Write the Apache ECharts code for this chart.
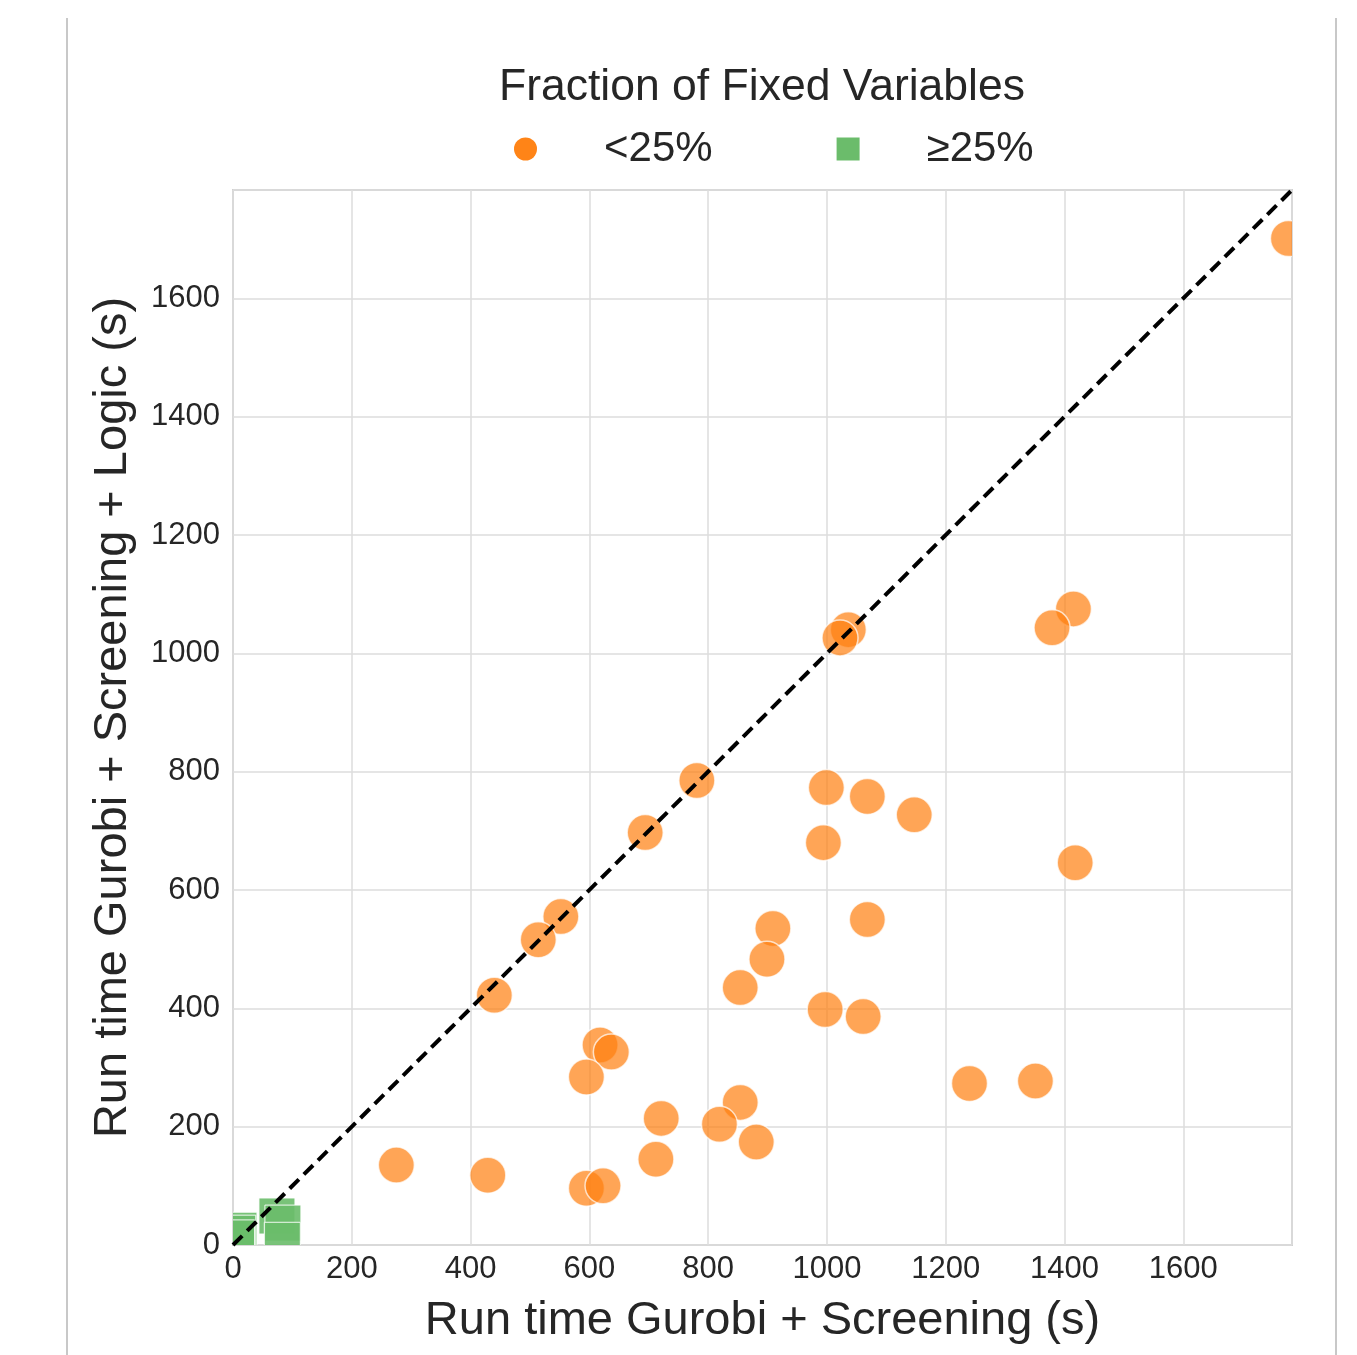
<!DOCTYPE html>
<html>
<head>
<meta charset="utf-8">
<script src="https://cdn.jsdelivr.net/npm/echarts@6/dist/echarts.min.js"></script>
<style>
  html, body { margin: 0; padding: 0; background: #fff; }
  #chart { width: 1357px; height: 1355px; }
</style>
</head>
<body>
<div id="chart"></div>
<script>
// data
var lowX = [1777, 1415, 1379, 1036, 1022, 781, 999, 1068, 1147, 994, 1418, 694,
  552, 514, 440, 909, 1068, 899, 854, 997, 1061, 618, 637, 595, 1240, 1351,
  854, 721, 819, 881, 712, 275, 429, 595, 623];
var lowY = [1701, 1075, 1043, 1040, 1026, 785, 773, 758, 727, 680, 646, 697,
  555, 516, 422, 535, 550, 483, 435, 398, 386, 338, 326, 284, 273, 277,
  241, 214, 204, 174, 145, 135, 118, 96, 100];
var highX = [10, 8, 6, 74, 84, 83];
var highY = [25, 20, 12, 49, 37, 8];
var legendNames = ['<25%', '\u226525%'];
var axisMax = 1783;

var font = "'Liberation Sans', Arial, Helvetica, sans-serif";
var textColor = '#262626';

function pairs(xs, ys) {
  var out = [];
  for (var i = 0; i < xs.length; i++) out.push([xs[i], ys[i]]);
  return out;
}

function circleItem(params, api) {
  var p = api.coord([api.value(0), api.value(1)]);
  return {
    type: 'circle',
    shape: { cx: p[0], cy: p[1], r: 18 },
    style: { fill: '#ff7f0e', stroke: '#ffffff', lineWidth: 1.5, opacity: 0.7 }
  };
}

function squareItem(params, api) {
  var p = api.coord([api.value(0), api.value(1)]);
  return {
    type: 'rect',
    shape: { x: p[0] - 18, y: p[1] - 18, width: 36, height: 36 },
    style: { fill: '#6abd6a', stroke: '#ffffff', lineWidth: 1, opacity: 0.9 }
  };
}

var chart = echarts.init(document.getElementById('chart'));

var axisCommon = {
  type: 'value',
  min: 0,
  max: axisMax,
  interval: 200,
  nameLocation: 'middle',
  nameTextStyle: { fontFamily: font, fontSize: 47, color: textColor },
  axisLine: { show: false },
  axisTick: { show: false },
  splitLine: { lineStyle: { color: '#dcdcdc', width: 1.5 } }
};

function plain(v) { return String(v); }

chart.setOption({
  backgroundColor: '#ffffff',
  animation: false,
  title: {
    text: 'Fraction of Fixed Variables',
    left: 757,
    top: 60,
    textAlign: 'center',
    textStyle: { fontFamily: font, fontSize: 44.5, fontWeight: 'normal', color: textColor }
  },
  legend: {
    left: 509,
    top: 123,
    itemWidth: 23,
    itemHeight: 23,
    itemGap: 124,
    textStyle: { fontFamily: font, fontSize: 42, color: textColor, padding: [0, 0, 0, 62] },
    data: [
      { name: legendNames[0], icon: 'circle', itemStyle: { color: '#ff8417' } },
      { name: legendNames[1], icon: 'rect', itemStyle: { color: '#6bbc6b' } }
    ]
  },
  grid: {
    left: 233,
    right: 65,
    top: 190,
    bottom: 110,
    show: true,
    borderColor: '#cfcfcf',
    borderWidth: 2
  },
  xAxis: Object.assign({}, axisCommon, {
    name: 'Run time Gurobi + Screening (s)',
    nameGap: 53,
    axisLabel: { fontFamily: font, fontSize: 31, color: textColor, margin: 9, showMaxLabel: false, formatter: plain }
  }),
  yAxis: Object.assign({}, axisCommon, {
    name: 'Run time Gurobi + Screening + Logic (s)',
    nameGap: 96,
    axisLabel: { fontFamily: font, fontSize: 31, color: textColor, margin: 13, showMaxLabel: false, formatter: plain }
  }),
  graphic: [
    { type: 'line', shape: { x1: 67, y1: 18, x2: 67, y2: 1355 }, style: { stroke: '#c8c8c8', lineWidth: 2 } },
    { type: 'line', shape: { x1: 1336, y1: 18, x2: 1336, y2: 1355 }, style: { stroke: '#c8c8c8', lineWidth: 2 } }
  ],
  series: [
    {
      name: legendNames[0],
      type: 'custom',
      clip: true,
      itemStyle: { color: '#ff8417' },
      renderItem: circleItem,
      data: pairs(lowX, lowY),
      z: 2
    },
    {
      name: legendNames[1],
      type: 'custom',
      clip: true,
      itemStyle: { color: '#6bbc6b' },
      renderItem: squareItem,
      data: pairs(highX, highY),
      z: 2
    },
    {
      type: 'line',
      data: [[0, 0], [axisMax, axisMax]],
      symbol: 'none',
      silent: true,
      lineStyle: { color: '#000000', width: 4, type: [13, 7] },
      z: 3
    }
  ]
});
</script>
</body>
</html>
